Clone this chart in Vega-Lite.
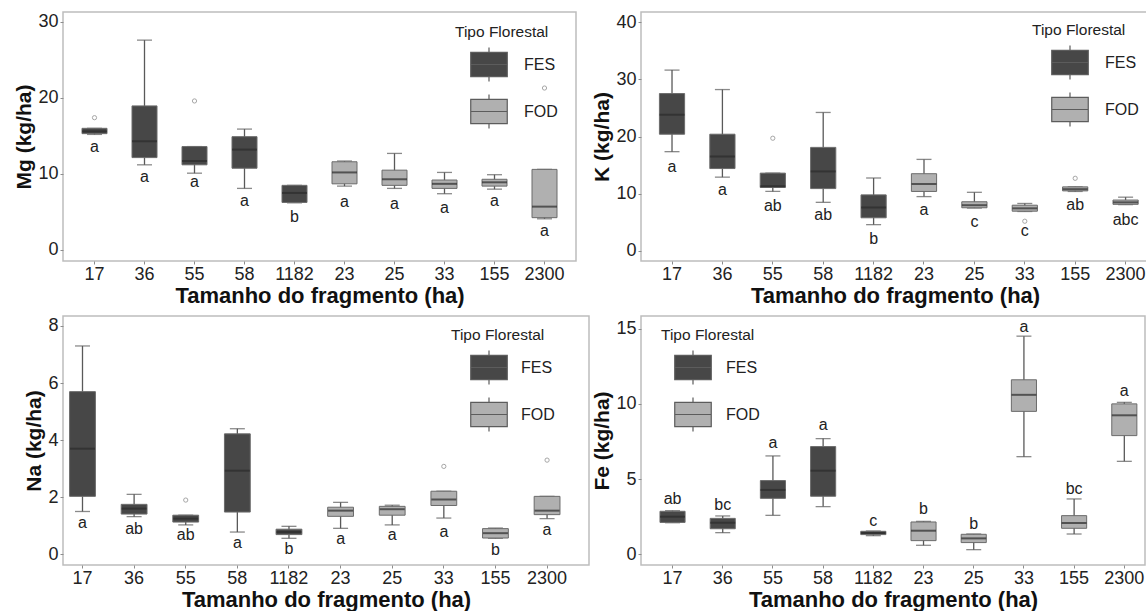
{
  "$schema": "https://vega.github.io/schema/vega-lite/v6.json",
  "background": "white",
  "padding": {"left": 12, "top": 11, "right": 0, "bottom": 0},
  "config": {
    "view": {"stroke": "#bdbdbd", "strokeWidth": 1.5},
    "axis": {"grid": false, "domain": false, "tickColor": "#8c8c8c", "tickSize": 3, "labelFont": "Liberation Sans", "labelFontSize": 18, "labelColor": "#222222", "titleFont": "Liberation Sans", "titleFontWeight": "bold", "titleColor": "#111111", "labelPadding": 2},
    "axisX": {"labelAngle": 0, "titleFontSize": 22, "titlePadding": 2, "labelPadding": 1, "labelOverlap": false},
    "axisY": {"titleFontSize": 21, "titlePadding": 4},
    "legend": {"titleFont": "Liberation Sans", "labelFont": "Liberation Sans", "titleFontWeight": "normal", "titleFontSize": 15.5, "labelFontSize": 16, "titleColor": "#222222", "labelColor": "#222222", "padding": 0, "rowPadding": 4, "titlePadding": 1, "labelOffset": 12, "symbolOffset": 12, "symbolType": "M-0.83,-0.55H0.83V0.55H-0.83Z M0,-0.55V-0.77 M0,0.55V0.77 M-0.83,0H0.83", "symbolSize": 1936, "symbolStrokeColor": "#5c5c5c", "symbolStrokeWidth": 1.2, "symbolOpacity": 1},
    "text": {"font": "Liberation Sans"}
  },
  "datasets": {
    "mg": [
      {"frag": "17", "tipo": "FES", "min": 15.2, "q1": 15.3, "med": 15.6, "q3": 16.0, "max": 16.0, "out": 17.4, "lab": "a", "ly": 13.6},
      {"frag": "36", "tipo": "FES", "min": 11.2, "q1": 12.15, "med": 14.3, "q3": 18.95, "max": 27.6, "lab": "a", "ly": 9.6},
      {"frag": "55", "tipo": "FES", "min": 10.1, "q1": 11.2, "med": 11.7, "q3": 13.6, "max": 13.6, "out": 19.6, "lab": "a", "ly": 8.9},
      {"frag": "58", "tipo": "FES", "min": 8.1, "q1": 10.75, "med": 13.2, "q3": 14.9, "max": 15.9, "lab": "a", "ly": 6.4},
      {"frag": "1182", "tipo": "FES", "min": 6.2, "q1": 6.25, "med": 7.5, "q3": 8.5, "max": 8.5, "lab": "b", "ly": 4.3},
      {"frag": "23", "tipo": "FOD", "min": 8.4, "q1": 8.7, "med": 10.2, "q3": 11.6, "max": 11.7, "lab": "a", "ly": 6.3},
      {"frag": "25", "tipo": "FOD", "min": 8.1, "q1": 8.5, "med": 9.3, "q3": 10.5, "max": 12.7, "lab": "a", "ly": 6.1},
      {"frag": "33", "tipo": "FOD", "min": 7.4, "q1": 8.1, "med": 8.7, "q3": 9.2, "max": 10.2, "lab": "a", "ly": 5.5},
      {"frag": "155", "tipo": "FOD", "min": 8.0, "q1": 8.4, "med": 8.9, "q3": 9.3, "max": 9.9, "lab": "a", "ly": 6.4},
      {"frag": "2300", "tipo": "FOD", "min": 4.1, "q1": 4.25, "med": 5.7, "q3": 10.6, "max": 10.6, "out": 21.3, "lab": "a", "ly": 2.5}
    ],
    "k": [
      {"frag": "17", "tipo": "FES", "min": 17.35, "q1": 20.4, "med": 23.8, "q3": 27.5, "max": 31.6, "lab": "a", "ly": 14.7},
      {"frag": "36", "tipo": "FES", "min": 12.9, "q1": 14.4, "med": 16.5, "q3": 20.4, "max": 28.2, "lab": "a", "ly": 10.6},
      {"frag": "55", "tipo": "FES", "min": 10.4, "q1": 11.1, "med": 11.3, "q3": 13.6, "max": 13.6, "out": 19.7, "lab": "ab", "ly": 7.9},
      {"frag": "58", "tipo": "FES", "min": 8.5, "q1": 10.9, "med": 13.9, "q3": 18.1, "max": 24.2, "lab": "ab", "ly": 6.2},
      {"frag": "1182", "tipo": "FES", "min": 4.6, "q1": 5.8, "med": 7.6, "q3": 9.8, "max": 12.75, "lab": "b", "ly": 2.1},
      {"frag": "23", "tipo": "FOD", "min": 9.5, "q1": 10.4, "med": 11.7, "q3": 13.5, "max": 16.0, "lab": "a", "ly": 7.1},
      {"frag": "25", "tipo": "FOD", "min": 7.5, "q1": 7.55, "med": 8.0, "q3": 8.6, "max": 10.25, "lab": "c", "ly": 5.1},
      {"frag": "33", "tipo": "FOD", "min": 6.9, "q1": 6.95, "med": 7.45, "q3": 8.0, "max": 8.3, "out": 5.2, "lab": "c", "ly": 3.5},
      {"frag": "155", "tipo": "FOD", "min": 10.4, "q1": 10.5, "med": 10.8, "q3": 11.2, "max": 11.2, "out": 12.7, "lab": "ab", "ly": 8.0},
      {"frag": "2300", "tipo": "FOD", "min": 8.1, "q1": 8.15, "med": 8.5, "q3": 8.9, "max": 9.4, "lab": "abc", "ly": 5.5}
    ],
    "na": [
      {"frag": "17", "tipo": "FES", "min": 1.5, "q1": 2.03, "med": 3.7, "q3": 5.7, "max": 7.3, "lab": "a", "ly": 1.09},
      {"frag": "36", "tipo": "FES", "min": 1.32, "q1": 1.41, "med": 1.6, "q3": 1.75, "max": 2.1, "lab": "ab", "ly": 0.9},
      {"frag": "55", "tipo": "FES", "min": 1.03, "q1": 1.13, "med": 1.25, "q3": 1.37, "max": 1.37, "out": 1.9, "lab": "ab", "ly": 0.67},
      {"frag": "58", "tipo": "FES", "min": 0.78, "q1": 1.48, "med": 2.93, "q3": 4.22, "max": 4.4, "lab": "a", "ly": 0.39},
      {"frag": "1182", "tipo": "FES", "min": 0.56, "q1": 0.69, "med": 0.78, "q3": 0.88, "max": 0.98, "lab": "b", "ly": 0.18},
      {"frag": "23", "tipo": "FOD", "min": 0.91, "q1": 1.33, "med": 1.53, "q3": 1.65, "max": 1.82, "lab": "a", "ly": 0.55},
      {"frag": "25", "tipo": "FOD", "min": 1.03, "q1": 1.37, "med": 1.58, "q3": 1.68, "max": 1.72, "lab": "a", "ly": 0.69},
      {"frag": "33", "tipo": "FOD", "min": 1.27, "q1": 1.71, "med": 1.92, "q3": 2.21, "max": 2.21, "out": 3.08, "lab": "a", "ly": 0.79},
      {"frag": "155", "tipo": "FOD", "min": 0.56, "q1": 0.57, "med": 0.74, "q3": 0.9, "max": 0.92, "lab": "b", "ly": 0.14},
      {"frag": "2300", "tipo": "FOD", "min": 1.25, "q1": 1.39, "med": 1.53, "q3": 2.03, "max": 2.03, "out": 3.3, "lab": "a", "ly": 0.85}
    ],
    "fe": [
      {"frag": "17", "tipo": "FES", "min": 2.1, "q1": 2.12, "med": 2.5, "q3": 2.86, "max": 2.9, "lab": "ab", "ly": 3.66},
      {"frag": "36", "tipo": "FES", "min": 1.44, "q1": 1.7, "med": 2.1, "q3": 2.39, "max": 2.55, "lab": "bc", "ly": 3.3},
      {"frag": "55", "tipo": "FES", "min": 2.59, "q1": 3.72, "med": 4.28, "q3": 4.9, "max": 6.54, "lab": "a", "ly": 7.42},
      {"frag": "58", "tipo": "FES", "min": 3.17, "q1": 3.86, "med": 5.56, "q3": 7.16, "max": 7.69, "lab": "a", "ly": 8.58},
      {"frag": "1182", "tipo": "FES", "min": 1.24, "q1": 1.31, "med": 1.42, "q3": 1.53, "max": 1.55, "lab": "c", "ly": 2.2},
      {"frag": "23", "tipo": "FOD", "min": 0.6, "q1": 0.91, "med": 1.57, "q3": 2.15, "max": 2.19, "lab": "b", "ly": 3.04},
      {"frag": "25", "tipo": "FOD", "min": 0.31, "q1": 0.78, "med": 1.06, "q3": 1.33, "max": 1.35, "lab": "b", "ly": 2.02},
      {"frag": "33", "tipo": "FOD", "min": 6.49, "q1": 9.5, "med": 10.6, "q3": 11.6, "max": 14.5, "lab": "a", "ly": 15.1},
      {"frag": "155", "tipo": "FOD", "min": 1.35, "q1": 1.73, "med": 2.08, "q3": 2.57, "max": 3.68, "lab": "bc", "ly": 4.37},
      {"frag": "2300", "tipo": "FOD", "min": 6.18, "q1": 7.89, "med": 9.24, "q3": 10.0, "max": 10.1, "lab": "a", "ly": 10.86}
    ]
  },
  "columns": 2,
  "align": "none",
  "spacing": {"row": 8, "column": 0},
  "resolve": {"scale": {"x": "independent", "y": "independent", "color": "independent"}, "legend": {"color": "independent"}},
  "concat": [
    {
      "width": 513, "height": 249,
      "data": {"name": "mg"},
      "encoding": {"x": {"field": "frag", "type": "nominal", "sort": ["17","36","55","58","1182","23","25","33","155","2300"], "scale": {"paddingInner": 0.5, "paddingOuter": 0.38, "align": 0.5}, "axis": {"title": "Tamanho do fragmento (ha)"}}},
      "layer": [
        {"mark": {"type": "rule", "color": "#595959", "strokeWidth": 1.3}, "encoding": {"y": {"field": "min", "type": "quantitative", "title": "Mg (kg/ha)", "scale": {"domain": [-1.45, 31.3], "nice": false, "zero": false}, "axis": {"values": [0, 10, 20, 30], "minExtent": 25, "maxExtent": 25}}, "y2": {"field": "max"}}},
        {"mark": {"type": "tick", "color": "#595959", "thickness": 1.3, "size": 15}, "encoding": {"y": {"field": "min", "type": "quantitative", "title": "Mg (kg/ha)"}}},
        {"mark": {"type": "tick", "color": "#595959", "thickness": 1.3, "size": 15}, "encoding": {"y": {"field": "max", "type": "quantitative", "title": "Mg (kg/ha)"}}},
        {"mark": {"type": "bar", "stroke": "#6b6b6b", "strokeWidth": 1}, "encoding": {"y": {"field": "q1", "type": "quantitative", "title": "Mg (kg/ha)"}, "y2": {"field": "q3"}, "color": {"field": "tipo", "type": "nominal", "scale": {"domain": ["FES", "FOD"], "range": ["#474747", "#b0b0b0"]}, "legend": {"title": "Tipo Florestal", "orient": "none", "legendX": 392, "legendY": 13, "symbolOffset": 11, "labelOffset": 12}}}},
        {"mark": {"type": "tick", "color": "#2b2b2b", "thickness": 2, "size": 25}, "encoding": {"y": {"field": "med", "type": "quantitative", "title": "Mg (kg/ha)"}}},
        {"mark": {"type": "point", "shape": "circle", "filled": false, "color": "#a6a6a6", "size": 18, "strokeWidth": 1, "opacity": 1}, "encoding": {"y": {"field": "out", "type": "quantitative", "title": "Mg (kg/ha)"}}},
        {"mark": {"type": "text", "fontSize": 16, "color": "#222222"}, "encoding": {"y": {"field": "ly", "type": "quantitative", "title": "Mg (kg/ha)"}, "text": {"field": "lab"}}}
      ]
    },
    {
      "width": 508, "height": 249,
      "data": {"name": "k"},
      "encoding": {"x": {"field": "frag", "type": "nominal", "sort": ["17","36","55","58","1182","23","25","33","155","2300"], "scale": {"paddingInner": 0.5, "paddingOuter": 0.29, "align": 0.63}, "axis": {"title": "Tamanho do fragmento (ha)"}}},
      "layer": [
        {"mark": {"type": "rule", "color": "#595959", "strokeWidth": 1.3}, "encoding": {"y": {"field": "min", "type": "quantitative", "title": "K (kg/ha)", "scale": {"domain": [-1.75, 41.75], "nice": false, "zero": false}, "axis": {"values": [0, 10, 20, 30, 40], "minExtent": 25, "maxExtent": 25}}, "y2": {"field": "max"}}},
        {"mark": {"type": "tick", "color": "#595959", "thickness": 1.3, "size": 15}, "encoding": {"y": {"field": "min", "type": "quantitative", "title": "K (kg/ha)"}}},
        {"mark": {"type": "tick", "color": "#595959", "thickness": 1.3, "size": 15}, "encoding": {"y": {"field": "max", "type": "quantitative", "title": "K (kg/ha)"}}},
        {"mark": {"type": "bar", "stroke": "#6b6b6b", "strokeWidth": 1}, "encoding": {"y": {"field": "q1", "type": "quantitative", "title": "K (kg/ha)"}, "y2": {"field": "q3"}, "color": {"field": "tipo", "type": "nominal", "scale": {"domain": ["FES", "FOD"], "range": ["#474747", "#b0b0b0"]}, "legend": {"title": "Tipo Florestal", "orient": "none", "legendX": 391, "legendY": 11, "symbolOffset": 15, "labelOffset": 12}}}},
        {"mark": {"type": "tick", "color": "#2b2b2b", "thickness": 2, "size": 25}, "encoding": {"y": {"field": "med", "type": "quantitative", "title": "K (kg/ha)"}}},
        {"mark": {"type": "point", "shape": "circle", "filled": false, "color": "#a6a6a6", "size": 18, "strokeWidth": 1, "opacity": 1}, "encoding": {"y": {"field": "out", "type": "quantitative", "title": "K (kg/ha)"}}},
        {"mark": {"type": "text", "fontSize": 16, "color": "#222222"}, "encoding": {"y": {"field": "ly", "type": "quantitative", "title": "K (kg/ha)"}, "text": {"field": "lab"}}}
      ]
    },
    {
      "width": 526, "height": 249,
      "data": {"name": "na"},
      "encoding": {"x": {"field": "frag", "type": "nominal", "sort": ["17","36","55","58","1182","23","25","33","155","2300"], "scale": {"paddingInner": 0.5, "paddingOuter": 0.345, "align": 0.185}, "axis": {"title": "Tamanho do fragmento (ha)"}}},
      "layer": [
        {"mark": {"type": "rule", "color": "#595959", "strokeWidth": 1.3}, "encoding": {"y": {"field": "min", "type": "quantitative", "title": "Na (kg/ha)", "scale": {"domain": [-0.375, 8.35], "nice": false, "zero": false}, "axis": {"values": [0, 2, 4, 6, 8], "minExtent": 15, "maxExtent": 15}}, "y2": {"field": "max"}}},
        {"mark": {"type": "tick", "color": "#595959", "thickness": 1.3, "size": 15}, "encoding": {"y": {"field": "min", "type": "quantitative", "title": "Na (kg/ha)"}}},
        {"mark": {"type": "tick", "color": "#595959", "thickness": 1.3, "size": 15}, "encoding": {"y": {"field": "max", "type": "quantitative", "title": "Na (kg/ha)"}}},
        {"mark": {"type": "bar", "stroke": "#6b6b6b", "strokeWidth": 1}, "encoding": {"y": {"field": "q1", "type": "quantitative", "title": "Na (kg/ha)"}, "y2": {"field": "q3"}, "color": {"field": "tipo", "type": "nominal", "scale": {"domain": ["FES", "FOD"], "range": ["#474747", "#b0b0b0"]}, "legend": {"title": "Tipo Florestal", "orient": "none", "legendX": 388, "legendY": 12, "symbolOffset": 15, "labelOffset": 9}}}},
        {"mark": {"type": "tick", "color": "#2b2b2b", "thickness": 2, "size": 25}, "encoding": {"y": {"field": "med", "type": "quantitative", "title": "Na (kg/ha)"}}},
        {"mark": {"type": "point", "shape": "circle", "filled": false, "color": "#a6a6a6", "size": 18, "strokeWidth": 1, "opacity": 1}, "encoding": {"y": {"field": "out", "type": "quantitative", "title": "Na (kg/ha)"}}},
        {"mark": {"type": "text", "fontSize": 16, "color": "#222222"}, "encoding": {"y": {"field": "ly", "type": "quantitative", "title": "Na (kg/ha)"}, "text": {"field": "lab"}}}
      ]
    },
    {
      "width": 504, "height": 249,
      "data": {"name": "fe"},
      "encoding": {"x": {"field": "frag", "type": "nominal", "sort": ["17","36","55","58","1182","23","25","33","155","2300"], "scale": {"paddingInner": 0.5, "paddingOuter": 0.27, "align": 0.7}, "axis": {"title": "Tamanho do fragmento (ha)"}}},
      "layer": [
        {"mark": {"type": "rule", "color": "#595959", "strokeWidth": 1.3}, "encoding": {"y": {"field": "min", "type": "quantitative", "title": "Fe (kg/ha)", "scale": {"domain": [-0.71, 15.84], "nice": false, "zero": false}, "axis": {"values": [0, 5, 10, 15], "minExtent": 25, "maxExtent": 25}}, "y2": {"field": "max"}}},
        {"mark": {"type": "tick", "color": "#595959", "thickness": 1.3, "size": 15}, "encoding": {"y": {"field": "min", "type": "quantitative", "title": "Fe (kg/ha)"}}},
        {"mark": {"type": "tick", "color": "#595959", "thickness": 1.3, "size": 15}, "encoding": {"y": {"field": "max", "type": "quantitative", "title": "Fe (kg/ha)"}}},
        {"mark": {"type": "bar", "stroke": "#6b6b6b", "strokeWidth": 1}, "encoding": {"y": {"field": "q1", "type": "quantitative", "title": "Fe (kg/ha)"}, "y2": {"field": "q3"}, "color": {"field": "tipo", "type": "nominal", "scale": {"domain": ["FES", "FOD"], "range": ["#474747", "#b0b0b0"]}, "legend": {"title": "Tipo Florestal", "orient": "none", "legendX": 20, "legendY": 12, "symbolOffset": 9, "labelOffset": 10}}}},
        {"mark": {"type": "tick", "color": "#2b2b2b", "thickness": 2, "size": 25}, "encoding": {"y": {"field": "med", "type": "quantitative", "title": "Fe (kg/ha)"}}},
        {"mark": {"type": "text", "fontSize": 16, "color": "#222222"}, "encoding": {"y": {"field": "ly", "type": "quantitative", "title": "Fe (kg/ha)"}, "text": {"field": "lab"}}}
      ]
    }
  ]
}
